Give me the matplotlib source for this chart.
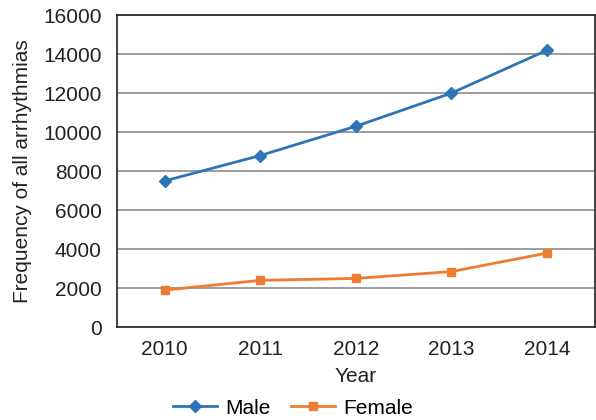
import matplotlib.pyplot as plt

plt.rcParams['font.family'] = ['Liberation Sans', 'DejaVu Sans']

years = ['2010', '2011', '2012', '2013', '2014']
male = [7500, 8800, 10300, 12000, 14200]
female = [1900, 2400, 2500, 2850, 3800]

fig = plt.figure(figsize=(5.96, 4.2), dpi=100)
ax = fig.add_axes([0.196, 0.221, 0.802, 0.743])

x = range(len(years))
ax.plot(x, male, color='#2E75B6', lw=2, marker='D', ms=6, label='Male')
ax.plot(x, female, color='#ED7D31', lw=2, marker='s', ms=6, label='Female')

ax.set_xlim(-0.5, 4.5)
ax.set_ylim(0, 16000)
ax.set_yticks(range(0, 16001, 2000))
ax.set_xticks(list(x))
ax.set_xticklabels(years)
ax.yaxis.grid(True, color='#8c8c8c', lw=1.2)
ax.set_axisbelow(True)
ax.tick_params(axis='both', labelsize=15, length=0, colors='#222222')
ax.tick_params(axis='y', pad=11)
ax.tick_params(axis='x', pad=9)
for s in ax.spines.values():
    s.set_color('#222222')
    s.set_linewidth(1.2)

ax.set_xlabel('Year', fontsize=15, labelpad=6, color='#222222')
ax.set_ylabel('Frequency of all arrhythmias', fontsize=15, labelpad=8, color='#222222')

fig.legend(*ax.get_legend_handles_labels(), loc='center', bbox_to_anchor=(0.492, 0.028),
           ncol=2, frameon=False, fontsize=15, handlelength=2.1, columnspacing=1.0,
           handletextpad=0.4, borderpad=0)

plt.savefig('out.png', dpi=100)
